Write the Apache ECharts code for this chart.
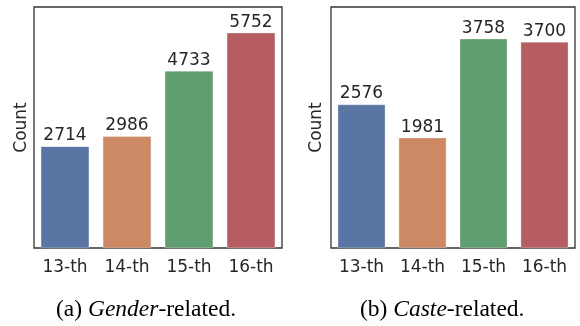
<!DOCTYPE html>
<html>
<head>
<meta charset="utf-8">
<script src="https://cdn.jsdelivr.net/npm/echarts@6/dist/echarts.min.js"></script>
<style>html,body{margin:0;padding:0;background:#fff;}#c{width:580px;height:326px;}</style>
</head>
<body>
<div id="c"></div>
<script>
var categories = ['13-th', '14-th', '15-th', '16-th'];
var genderValues = [2714, 2986, 4733, 5752];
var casteValues = [2576, 1981, 3758, 3700];
var barColors = ['#5875a4', '#cc8963', '#5f9e6e', '#b55d60'];
var captionA = ['(a) ', 'Gender', '-related.'];
var captionB = ['(b) ', 'Caste', '-related.'];

var chart = echarts.init(document.getElementById('c'), null, {renderer: 'canvas'});
var txt = '#262626';
var font = 'DejaVu Sans';

function mkData(vals) {
  return vals.map(function (v, i) { return {value: v, itemStyle: {color: barColors[i]}}; });
}
function xAx(idx) {
  return {
    type: 'category', gridIndex: idx, data: categories,
    axisLine: {show: false}, axisTick: {show: false},
    axisLabel: {color: txt, fontSize: 17, fontFamily: font, margin: 11}
  };
}
function yAx(idx, max, gap) {
  return {
    type: 'value', gridIndex: idx, min: 0, max: max,
    name: 'Count', nameLocation: 'middle', nameGap: gap,
    nameTextStyle: {color: txt, fontSize: 17, fontFamily: font},
    axisLine: {show: false}, axisTick: {show: false}, axisLabel: {show: false},
    splitLine: {show: false}
  };
}
function ser(idx, vals) {
  return {
    type: 'bar', xAxisIndex: idx, yAxisIndex: idx, data: mkData(vals),
    barCategoryGap: '22%',
    itemStyle: {borderColor: 'rgba(255,255,255,0.6)', borderWidth: 0.5},
    label: {show: true, position: 'top', distance: 2, color: txt, fontSize: 17, fontFamily: font},
    animation: false
  };
}
function caption(parts, x) {
  return {
    type: 'text', left: x, top: 298,
    style: {
      text: '{n|' + parts[0] + '}{i|' + parts[1] + '}{n|' + parts[2] + '}',
      rich: {
        n: {fontFamily: 'Liberation Serif', fontSize: 23.5, fill: '#000'},
        i: {fontFamily: 'Liberation Serif', fontSize: 23.5, fontStyle: 'italic', fill: '#000'}
      }
    }
  };
}

chart.setOption({
  animation: false,
  grid: [
    {left: 34, top: 7, width: 248, height: 241, show: true, borderColor: '#333', borderWidth: 1.3, backgroundColor: '#fff'},
    {left: 331, top: 7, width: 244, height: 241, show: true, borderColor: '#333', borderWidth: 1.3, backgroundColor: '#fff'}
  ],
  xAxis: [xAx(0), xAx(1)],
  yAxis: [yAx(0, 6440, 4), yAx(1, 4327, 6)],
  series: [ser(0, genderValues), ser(1, casteValues)],
  graphic: [caption(captionA, 56), caption(captionB, 360)]
});
</script>
</body>
</html>
